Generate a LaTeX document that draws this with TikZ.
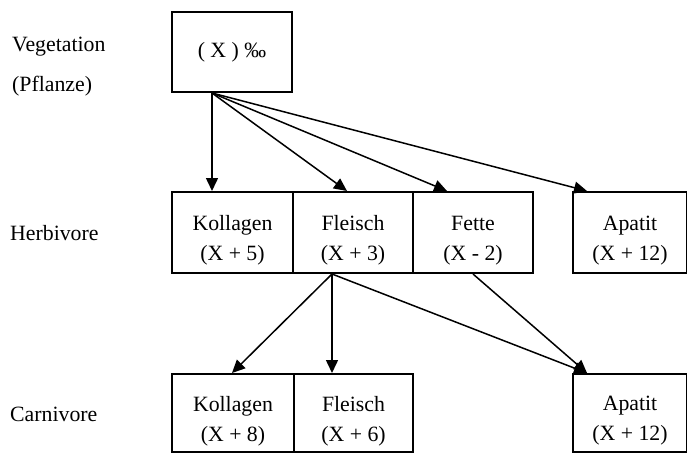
\documentclass[tikz,border=0pt]{standalone}
\usepackage{fontspec}
\setmainfont{Liberation Serif}
\usetikzlibrary{calc,arrows.meta}
\tikzset{
  box/.style={draw=black, line width=2pt, rectangle, inner sep=0pt, anchor=north west},
  boxtxt/.style={align=center, inner sep=0pt, font=\fontsize{21.8}{30}\selectfont},
  lbl/.style={anchor=base west, inner sep=0pt, font=\fontsize{21.8}{30}\selectfont},
  arr/.style={line width=1.5pt, -{Triangle[length=13pt,width=12pt]}}
}
\begin{document}
\begin{tikzpicture}[x=1pt,y=-1pt]
\useasboundingbox (0,0) rectangle (687,452);
% boxes
\node[box, minimum width=120pt, minimum height=80pt] (top) at (171,11) {};
\node[box, minimum width=121pt, minimum height=81pt] (hk) at (171,191) {};
\node[box, minimum width=120pt, minimum height=81pt] (hf) at (292,191) {};
\node[box, minimum width=120pt, minimum height=81pt] (hfe) at (412,191) {};
\node[box, minimum width=114pt, minimum height=81pt] (ha) at (572,191) {};
\node[box, minimum width=122pt, minimum height=78pt] (ck) at (171,373) {};
\node[box, minimum width=119pt, minimum height=78pt] (cf) at (293,373) {};
\node[box, minimum width=114pt, minimum height=78pt] (ca) at (572,373) {};
% box texts
\node[boxtxt] (topt) at (top) {( X ) ‰};
\node[boxtxt] (hkt) at ($(hk)+(0,8)$) {Kollagen\\(X + 5)};
\node[boxtxt] (hft) at ($(hf)+(0,8)$) {Fleisch\\(X + 3)};
\node[boxtxt] (hfet) at ($(hfe)+(0,8)$) {Fette\\(X - 2)};
\node[boxtxt] (hat) at ($(ha)+(0,8)$) {Apatit\\(X + 12)};
\node[boxtxt] (ckt) at ($(ck)+(0,8)$) {Kollagen\\(X + 8)};
\node[boxtxt] (cft) at ($(cf)+(0,8)$) {Fleisch\\(X + 6)};
\node[boxtxt] (cat) at ($(ca)+(0,8)$) {Apatit\\(X + 12)};
% row labels
\node[lbl] (veg) at (12,52) {Vegetation};
\node[lbl] (pfl) at (12,91) {(Pflanze)};
\node[lbl] (herb) at (10,240) {Herbivore};
\node[lbl] (carn) at (10,421) {Carnivore};
% connector anchor points
\coordinate (o1) at ($(top.south west)+(41,0)$);
\coordinate (o2) at ($(hf.south west)+(40,0)$);
\coordinate (o3) at ($(hfe.south west)+(61,0)$);
% arrows
\draw[arr] (o1) -- ($(hk.north west)+(41,0)$);
\draw[arr] (o1) -- ($(hf.north west)+(55,0)$);
\draw[arr] (o1) -- ($(hfe.north west)+(35,0)$);
\draw[arr] (o1) -- ($(ha.north west)+(15,0)$);
\draw[arr] (o2) -- ($(ck.north west)+(61,0)$);
\draw[arr] (o2) -- ($(cf.north west)+(39,0)$);
\draw[arr] (o2) -- ($(ca.north west)+(15,0)$);
\draw[arr] (o3) -- ($(ca.north west)+(15,0)$);
\end{tikzpicture}
\end{document}
